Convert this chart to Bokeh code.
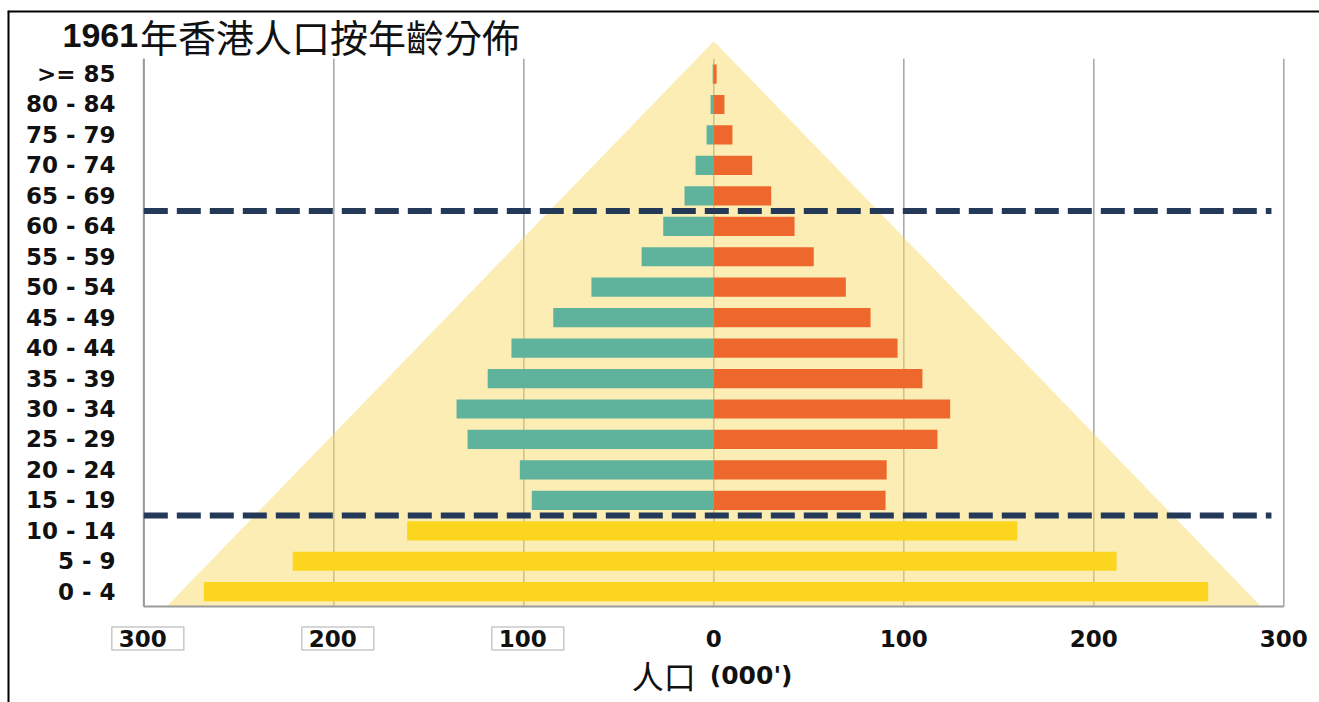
from bokeh.plotting import figure
from bokeh.models import Range1d
from bokeh.core.properties import value
from bokeh.embed import file_html
from bokeh.resources import INLINE

# Hong Kong population by age group, 1961 (thousands)
age_groups = ["0 - 4", "5 - 9", "10 - 14", "15 - 19", "20 - 24", "25 - 29",
              "30 - 34", "35 - 39", "40 - 44", "45 - 49", "50 - 54", "55 - 59",
              "60 - 64", "65 - 69", "70 - 74", "75 - 79", "80 - 84", ">= 85"]
male = [268.4, 221.6, 161.4, 95.8, 102.1, 129.6, 135.4, 119.0, 106.5, 84.5,
        64.4, 38.0, 26.6, 15.4, 9.6, 3.8, 1.7, 0.6]
female = [260.2, 212.0, 159.7, 90.4, 91.0, 117.7, 124.4, 109.8, 96.7, 82.5,
          69.5, 52.6, 42.5, 30.2, 20.2, 9.8, 5.6, 1.5]
child_groups = ["0 - 4", "5 - 9", "10 - 14"]
band_starts = ["15 - 19", "65 - 69"]
x_ticks = [-300, -200, -100, 0, 100, 200, 300]
x_tick_labels = ["300", "200", "100", "0", "100", "200", "300"]
title_year = "1961"
title_rest = "年香港人口按年齡分佈"
axis_title_cjk = "人口"
axis_title_unit = "(000')"
backdrop_half_width = 288

TEAL = "#5FB29B"
ORANGE = "#EE682E"
YELLOW = "#FCD51E"
NAVY = "#243858"
GRID = "#a9a9a9"
INK = "#111111"
LATIN = "DejaVu Sans"
CJK = "Noto Sans CJK TC"

ys = list(range(len(age_groups)))
n = len(age_groups)

# value axis: 1.9 px per thousand; age axis: 30.45 px per group
X0, X1 = -371.74, 318.79
Y0, Y1 = -3.639, 19.087
base_y = -0.486          # baseline of the bars / horizontal axis line
grid_top = n - 0.5
apex_y = 18.08
label_col_x = -314.9     # right edge of the age-group labels
tick_label_y = -1.54
axis_title_y = -2.74
title_y = 18.27
title_split_x = -303.0

p = figure(width=1319, height=702,
           x_range=Range1d(X0, X1), y_range=Range1d(Y0, Y1),
           output_backend="svg", toolbar_location=None, title=None,
           min_border_left=7, min_border_top=10,
           min_border_right=0, min_border_bottom=0)
p.xaxis.visible = False
p.yaxis.visible = False
p.grid.visible = False
p.outline_line_color = None
p.background_fill_color = "white"
p.border_fill_color = "white"

# frame border along top and left edge
p.segment(x0=[X0, X0], y0=[Y1, Y0], x1=[X1, X0], y1=[Y1, Y1],
          line_color="#000000", line_width=4)

# vertical grid lines at each tick
p.segment(x0=x_ticks, y0=base_y, x1=x_ticks, y1=grid_top,
          line_color=GRID, line_width=1.6)
p.segment(x0=[x_ticks[0]], y0=[base_y], x1=[x_ticks[0]], y1=[grid_top],
          line_color="#9b9b9b", line_width=2)

# pale pyramid backdrop
p.patch(x=[-backdrop_half_width, 0, backdrop_half_width],
        y=[base_y, apex_y, base_y],
        fill_color="#F7DB6A", fill_alpha=0.5, line_color=None)

left_colors = [YELLOW if g in child_groups else TEAL for g in age_groups]
right_colors = [YELLOW if g in child_groups else ORANGE for g in age_groups]

p.hbar(y=ys, left=[-v for v in male], right=0, height=0.63,
       fill_color=left_colors, line_color=None)
p.hbar(y=ys, left=0, right=female, height=0.63,
       fill_color=right_colors, line_color=None)

# horizontal axis line
p.segment(x0=[x_ticks[0]], y0=[base_y], x1=[x_ticks[-1]], y1=[base_y],
          line_color="#9b9b9b", line_width=2)

# dashed separators for the age bands
for g in band_starts:
    yb = age_groups.index(g) - 0.5
    p.segment(x0=[x_ticks[0]], y0=[yb], x1=[293.5], y1=[yb],
              line_color=NAVY, line_width=6, line_dash="24 9")

# age-group labels
p.text(x=label_col_x, y=ys, text=age_groups,
       text_align="right", text_baseline="middle",
       text_font=value(LATIN), text_font_style="bold",
       text_font_size="23px", text_color=INK)

# value tick labels
pos_x = [t for t in x_ticks if t >= 0]
pos_lab = [lab for t, lab in zip(x_ticks, x_tick_labels) if t >= 0]
neg_x = [t for t in x_ticks if t < 0]
neg_lab = [lab for t, lab in zip(x_ticks, x_tick_labels) if t < 0]

p.text(x=pos_x, y=tick_label_y, text=pos_lab,
       text_align="center", text_baseline="middle",
       text_font=value(LATIN), text_font_style="bold",
       text_font_size="23px", text_color=INK)
p.text(x=neg_x, y=tick_label_y, text=neg_lab, x_offset=4,
       text_align="center", text_baseline="middle",
       text_font=value(LATIN), text_font_style="bold",
       text_font_size="23px", text_color=INK,
       background_fill_color="white",
       border_line_color="#c8c8c8", border_line_width=1.5,
       padding=dict(left=7, right=17, top=3, bottom=3))

# axis title
p.text(x=[0], y=axis_title_y, text=[axis_title_cjk], x_offset=-18,
       text_align="right", text_baseline="middle",
       text_font=value(CJK), text_font_size="32px", text_color=INK)
p.text(x=[0], y=axis_title_y, text=[axis_title_unit], x_offset=-4,
       text_align="left", text_baseline="middle",
       text_font=value(LATIN), text_font_style="bold",
       text_font_size="25px", text_color=INK)

# chart title
p.text(x=[title_split_x], y=title_y, text=[title_year],
       text_align="right", text_baseline="middle",
       text_font=value("Liberation Sans"), text_font_style="bold",
       text_font_size="34px", text_color=INK)
p.text(x=[title_split_x], y=title_y, text=[title_rest], x_offset=2,
       text_align="left", text_baseline="middle",
       text_font=value(CJK), text_font_size="38px", text_color=INK)

open("out.html", "w").write(file_html(p, INLINE))
